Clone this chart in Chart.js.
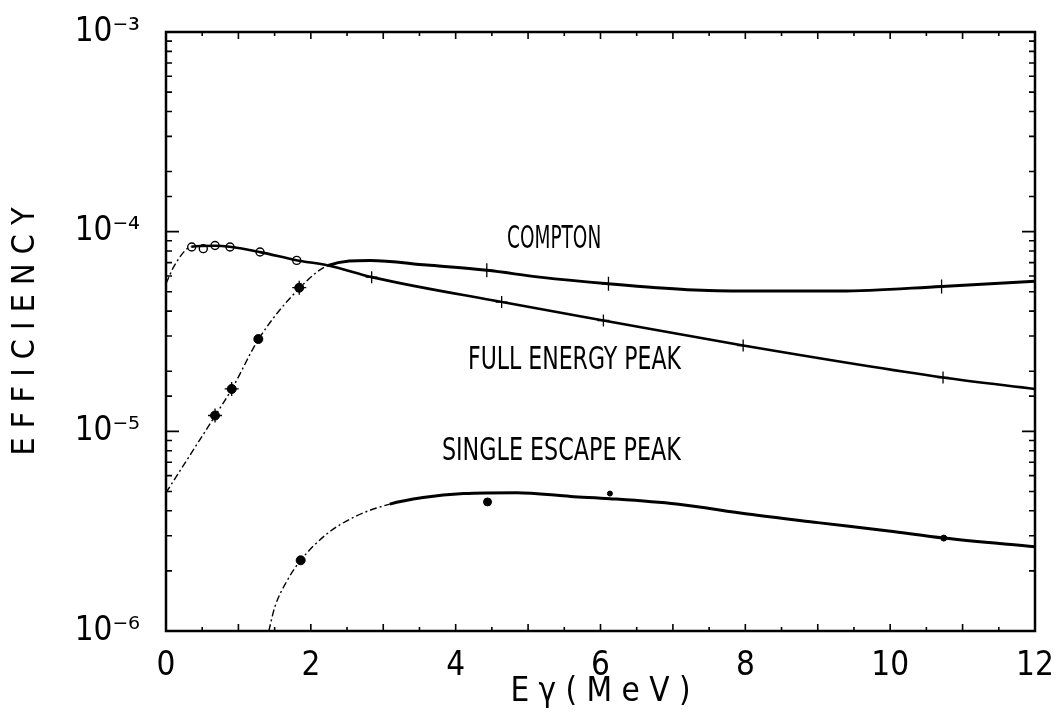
<!DOCTYPE html>
<html>
<head>
<meta charset="utf-8">
<script src="https://cdn.jsdelivr.net/npm/chart.js@4.4.1/dist/chart.umd.min.js"></script>
<style>
  html, body { margin: 0; padding: 0; background: #fff; }
  #wrap { width: 1057px; height: 713px; }
</style>
</head>
<body>
<div id="wrap"><canvas id="effChart"></canvas></div>
<script>
// detector efficiency vs gamma energy (MeV), log y

// --- fitted curves ---
const comptonCurveE   = [0, 0.68, 0.91, 1.28, 1.84, 2.24, 2.82, 3.6, 4.43, 5.16, 6.11, 7.2, 8.03, 9.3, 10.71, 12];
const comptonCurveEff = [4.93e-6, 1.2e-5, 1.63e-5, 2.9e-5, 5.2e-5, 6.77e-5, 7.18e-5, 6.8e-5, 6.4e-5, 5.92e-5, 5.48e-5, 5.12e-5, 5.04e-5, 5.04e-5, 5.32e-5, 5.65e-5];

const fepCurveE   = [0, 0.12, 0.35, 0.68, 0.88, 1.3, 1.8, 2.24, 2.84, 4.64, 6.04, 7.97, 10.73, 12];
const fepCurveEff = [5.5e-5, 6.8e-5, 8.4e-5, 8.5e-5, 8.4e-5, 7.9e-5, 7.2e-5, 6.77e-5, 5.92e-5, 4.44e-5, 3.59e-5, 2.69e-5, 1.86e-5, 1.63e-5];

const sepCurveE   = [1.42, 1.5, 1.67, 1.86, 2.22, 2.63, 3.09, 3.55, 4.11, 4.84, 5.59, 6.13, 7.05, 8.03, 9.0, 9.98, 10.74, 12];
const sepCurveEff = [1.0e-6, 1.31e-6, 1.78e-6, 2.26e-6, 3.06e-6, 3.77e-6, 4.32e-6, 4.66e-6, 4.88e-6, 4.93e-6, 4.72e-6, 4.6e-6, 4.32e-6, 3.85e-6, 3.49e-6, 3.17e-6, 2.92e-6, 2.64e-6];

// --- measured points ---
const fepOpenE     = [0.355, 0.515, 0.677, 0.884, 1.298, 1.805];
const fepOpenEff   = [8.38e-5, 8.22e-5, 8.53e-5, 8.38e-5, 7.91e-5, 7.18e-5];
const fepCrossE    = [2.84, 4.635, 6.04, 7.97, 10.73];
const fepCrossEff  = [5.92e-5, 4.44e-5, 3.59e-5, 2.69e-5, 1.86e-5];

const comptonDotE     = [0.677, 0.907, 1.275, 1.84];
const comptonDotEff   = [1.2e-5, 1.63e-5, 2.9e-5, 5.24e-5];
const comptonCrossE   = [0.677, 0.907, 1.84, 4.43, 6.11, 10.71];
const comptonCrossEff = [1.2e-5, 1.63e-5, 5.24e-5, 6.4e-5, 5.48e-5, 5.32e-5];

const sepDotE   = [1.86, 4.44, 6.13, 10.74];
const sepDotEff = [2.26e-6, 4.43e-6, 4.88e-6, 2.92e-6];

// --- axis ---
const xTickLabels = [0, 2, 4, 6, 8, 10, 12];

// curve labels: text, left/right energy, efficiency at text centre
const curveLabels = [
  { text: 'COMPTON',            e0: 4.71, e1: 6.01, eff: 9.15e-5 },
  { text: 'FULL ENERGY PEAK',   e0: 4.17, e1: 7.11, eff: 2.26e-5 },
  { text: 'SINGLE ESCAPE PEAK', e0: 3.81, e1: 7.11, eff: 7.9e-6 }
];

const FONT = "'DejaVu Sans Condensed', 'Liberation Sans Narrow', 'DejaVu Sans', sans-serif";
const SUP = { '-': '\u207B', '0': '\u2070', '1': '\u00B9', '2': '\u00B2', '3': '\u00B3',
  '4': '\u2074', '5': '\u2075', '6': '\u2076', '7': '\u2077', '8': '\u2078', '9': '\u2079' };

function pairs(xs, ys) {
  return xs.map((x, i) => ({ x: x, y: ys[i] }));
}

// thin dash-dot line at low energy, heavy line after
function lowEnergyDashed(limit) {
  return {
    borderDash: c => c.p1.parsed.x <= limit ? [7, 3, 2, 3] : undefined,
    borderWidth: c => c.p1.parsed.x <= limit ? 1.4 : undefined
  };
}

// frame + inward ticks on all four sides
const frameTicks = {
  id: 'frameTicks',
  afterDraw(chart) {
    const { ctx, chartArea: a, scales: { x, y } } = chart;
    ctx.save();
    ctx.strokeStyle = '#000';
    ctx.lineWidth = 2.5;
    ctx.strokeRect(a.left, a.top, a.right - a.left, a.bottom - a.top);

    ctx.lineWidth = 1.6;
    ctx.beginPath();
    x.ticks.forEach(t => {
      const px = x.getPixelForValue(t.value);
      const len = Number.isInteger(t.value) ? 7 : 4;
      ctx.moveTo(px, a.bottom); ctx.lineTo(px, a.bottom - len);
      ctx.moveTo(px, a.top);    ctx.lineTo(px, a.top + len);
    });
    y.ticks.forEach(t => {
      const py = y.getPixelForValue(t.value);
      const e = Math.floor(Math.log10(t.value) + 1e-9);
      const m = t.value / Math.pow(10, e);
      const len = Math.abs(m - 1) < 1e-6 ? 13 : 6;
      ctx.moveTo(a.left, py);  ctx.lineTo(a.left + len, py);
      ctx.moveTo(a.right, py); ctx.lineTo(a.right - len, py);
    });
    ctx.stroke();

    // curve names
    ctx.fillStyle = '#000';
    ctx.font = '32px ' + FONT;
    ctx.textBaseline = 'middle';
    curveLabels.forEach(l => {
      const px0 = x.getPixelForValue(l.e0);
      const px1 = x.getPixelForValue(l.e1);
      const py = y.getPixelForValue(l.eff);
      const w = ctx.measureText(l.text).width;
      ctx.save();
      ctx.translate(px0, py);
      ctx.scale((px1 - px0) / w, 1);
      ctx.fillText(l.text, 0, 0);
      ctx.restore();
    });
    ctx.restore();
  }
};

new Chart(document.getElementById('effChart'), {
  type: 'line',
  data: {
    datasets: [
      {
        label: 'Compton',
        data: pairs(comptonCurveE, comptonCurveEff),
        borderColor: '#000',
        borderWidth: 3,
        pointRadius: 0,
        cubicInterpolationMode: 'monotone',
        segment: lowEnergyDashed(2.3)
      },
      {
        label: 'Full energy peak',
        data: pairs(fepCurveE, fepCurveEff),
        borderColor: '#000',
        borderWidth: 2.6,
        pointRadius: 0,
        cubicInterpolationMode: 'monotone',
        segment: lowEnergyDashed(0.35)
      },
      {
        label: 'Single escape peak',
        data: pairs(sepCurveE, sepCurveEff),
        borderColor: '#000',
        borderWidth: 3,
        pointRadius: 0,
        cubicInterpolationMode: 'monotone',
        segment: lowEnergyDashed(3.5)
      },
      {
        label: 'FEP data',
        data: pairs(fepOpenE, fepOpenEff),
        showLine: false,
        pointStyle: 'circle',
        pointRadius: 4,
        pointBackgroundColor: '#fff',
        pointBorderColor: '#000',
        pointBorderWidth: 1.4
      },
      {
        label: 'FEP data (high E)',
        data: pairs(fepCrossE, fepCrossEff),
        showLine: false,
        pointStyle: 'cross',
        pointRadius: 6,
        pointBorderColor: '#000',
        pointBorderWidth: 1.3
      },
      {
        label: 'Compton data',
        data: pairs(comptonDotE, comptonDotEff),
        showLine: false,
        pointStyle: 'circle',
        pointRadius: 4.5,
        pointBackgroundColor: '#000',
        pointBorderColor: '#000',
        pointBorderWidth: 1
      },
      {
        label: 'Compton error bars',
        data: pairs(comptonCrossE, comptonCrossEff),
        showLine: false,
        pointStyle: 'cross',
        pointRadius: 7,
        pointBorderColor: '#000',
        pointBorderWidth: 1.3
      },
      {
        label: 'SEP data',
        data: pairs(sepDotE, sepDotEff),
        showLine: false,
        pointStyle: 'circle',
        pointRadius: [4.5, 4, 2.5, 3],
        pointBackgroundColor: '#000',
        pointBorderColor: '#000',
        pointBorderWidth: 1
      }
    ]
  },
  options: {
    responsive: true,
    maintainAspectRatio: false,
    animation: false,
    layout: { padding: { top: 32, right: 22, left: 0, bottom: 0 } },
    plugins: {
      legend: { display: false },
      tooltip: { enabled: false }
    },
    scales: {
      x: {
        type: 'linear',
        min: 0,
        max: 12,
        grid: { display: false },
        border: { display: false },
        ticks: {
          stepSize: 0.5,
          autoSkip: false,
          maxRotation: 0,
          padding: 8,
          color: '#000',
          font: { family: FONT, size: 33 },
          callback: v => xTickLabels.includes(v) ? String(v) : ''
        },
        title: {
          display: true,
          text: 'E \u03B3 ( M e V )',
          color: '#000',
          font: { family: FONT, size: 33 },
          padding: { top: 0, bottom: 1 }
        },
        afterFit: s => {
          s.height = 82;
          s.paddingLeft = 0;
          s.paddingRight = 0;
        }
      },
      y: {
        type: 'logarithmic',
        min: 1e-6,
        max: 1e-3,
        grid: { display: false },
        border: { display: false },
        ticks: {
          autoSkip: false,
          padding: 18,
          color: '#000',
          font: { family: FONT, size: 33 },
          callback: v => {
            const e = Math.round(Math.log10(v));
            if (Math.abs(v / Math.pow(10, e) - 1) > 1e-6) return '';
            return '10' + String(e).split('').map(c => SUP[c]).join('');
          }
        },
        title: {
          display: true,
          text: 'E F F I C I E N C Y',
          color: '#000',
          font: { family: FONT, size: 32 },
          padding: { top: 6, bottom: 0 }
        },
        afterFit: s => {
          s.width = 166;
          s.paddingTop = 0;
          s.paddingBottom = 0;
        }
      }
    }
  },
  plugins: [frameTicks]
});
</script>
</body>
</html>
